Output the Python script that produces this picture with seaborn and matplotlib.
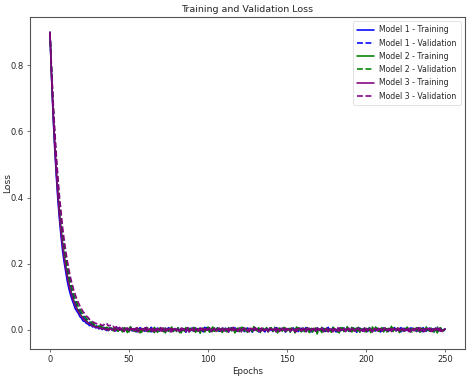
import numpy as np
import matplotlib
matplotlib.use("Agg")
import matplotlib.pyplot as plt
import seaborn as sns

# loss values per epoch (epoch 0..250)
m1_train = [
    .900, .762, .645, .548, .466, .393, .334, .283, .238, .204,
    .174, .146, .124, .106, .091, .078, .064, .057, .049, .040,
    .035, .027, .026, .020, .018, .013, .015, .009, .011, .006,
    .008, .003, .006, .001, .004, .007, -.002, .003, .005, .000,
    .004, -.003, .002, .006, -.001, .003, -.004, .001, .005, -.002,
    .002, .007, -.003, .000, .004, -.006, .002, .005, -.001, .003,
    -.004, .006, .001, -.002, .008, .000, -.005, .003, .002, -.001,
    .005, -.003, .004, -.006, .001, .007, -.002, .003, -.004, .002,
    .000, .006, -.005, .002, .004, -.001, -.007, .003, .005, -.002,
    .001, -.004, .006, .002, -.003, .004, .000, -.006, .003, .007,
    -.001, .002, -.005, .004, .001, -.002, .006, -.004, .000, .003,
    .005, -.003, .002, -.006, .004, .001, -.001, .007, -.004, .002,
    -.002, .005, .000, -.005, .003, .006, -.003, .001, -.007, .004,
    .002, -.001, .005, -.004, .000, .003, -.006, .006, .001, -.002,
    .004, -.005, .002, .007, -.003, .000, .005, -.002, .003, -.006,
    .001, .004, -.004, .002, .006, -.001, .003, -.005, .000, .005,
    -.003, .002, .007, -.002, .004, -.006, .001, .003, -.004, .006,
    .000, -.002, .005, .002, -.005, .003, .008, -.003, .001, -.001,
    .004, -.006, .002, .005, -.002, .000, .006, -.004, .003, .001,
    -.003, .005, -.001, .004, -.007, .002, .006, .000, -.004, .003,
    .002, -.005, .007, .001, -.002, .004, -.003, .005, .000, -.006,
    .003, .006, -.002, .001, -.005, .004, .002, -.001, .007, -.003,
    .000, .004, -.006, .003, .005, -.002, .001, -.004, .006, .002,
    -.001, .003, -.005, .005, .000, -.003, .007, .002, -.004, .001,
    .005, -.002, .003, -.006, .004, .001, -.003, .006, .000, -.002,
    .003,
]
m1_val = [
    .900, .780, .672, .582, .500, .432, .372, .322, .276, .240,
    .206, .180, .152, .133, .114, .098, .086, .072, .064, .054,
    .047, .041, .034, .031, .025, .023, .019, .017, .013, .014,
    .010, .008, .011, .006, .008, .004, .007, .002, .006, .003,
    .001, .005, -.002, .004, .006, .000, -.003, .005, .002, -.004,
    .003, .006, -.001, .002, -.005, .004, .000, .007, -.002, .001,
    .005, -.003, .003, .000, -.006, .004, .002, -.001, .006, -.004,
    .002, .001, -.003, .005, .003, -.005, .000, .004, -.002, .007,
    -.001, .003, .005, -.004, .001, .002, -.006, .004, .000, .003,
    .006, -.002, -.004, .003, .001, .005, -.003, .000, .008, -.001,
    .002, -.005, .004, .003, -.002, .000, .006, -.004, .002, .001,
    -.003, .005, .000, -.006, .004, .007, -.001, .002, -.004, .003,
    .001, -.002, .006, .000, -.005, .003, .002, .005, -.003, -.001,
    .004, .001, -.006, .003, .006, -.002, .000, .004, -.004, .002,
    .005, -.003, .001, .007, -.005, .002, .003, -.001, .004, -.006,
    .000, .006, -.002, .003, .001, -.004, .005, .002, -.003, .000,
    .004, -.005, .007, .001, -.002, .003, -.006, .004, .002, -.001,
    .006, .000, -.003, .005, .002, -.004, .001, .003, -.002, .008,
    -.001, .004, -.005, .002, .000, .006, -.003, .001, .005, -.004,
    .003, -.002, .006, .000, -.006, .004, .002, -.001, .003, .005,
    -.004, .001, .004, -.003, .007, .000, -.002, .005, .001, -.005,
    .002, .006, -.001, .003, -.004, .004, .000, -.006, .005, .002,
    -.002, .003, .007, -.003, .001, -.001, .004, -.005, .002, .006,
    .000, -.004, .003, .005, -.002, .001, -.006, .004, .003, -.001,
    .005, .002, -.003, .000, .006, -.004, .002, .004, -.002, .001,
    -.001,
]
m2_train = [
    .900, .770, .660, .566, .486, .414, .356, .306, .262, .226,
    .194, .165, .140, .121, .103, .090, .076, .066, .058, .048,
    .042, .036, .030, .028, .021, .019, .016, .012, .014, .009,
    .010, .006, .008, .003, .007, .001, .005, -.002, .004, .006,
    -.003, .002, .008, -.004, .003, .000, -.006, .005, .002, -.008,
    .004, .010, -.002, .001, -.005, .006, .003, -.009, .002, .004,
    -.001, .007, -.006, .003, .000, -.004, .008, .001, -.007, .005,
    .002, -.003, .006, -.009, .004, .001, -.002, .009, -.005, .003,
    .000, .006, -.008, .002, .005, -.004, .001, .007, -.006, .003,
    -.002, .008, .000, -.005, .004, -.010, .003, .006, -.003, .001,
    .005, -.007, .002, .009, -.004, .000, .006, -.002, .003, -.008,
    .004, .001, -.006, .007, .002, -.003, .005, -.009, .001, .006,
    -.004, .003, .008, -.002, .000, -.007, .004, .002, -.005, .010,
    .001, -.003, .006, -.008, .003, .005, -.001, .002, -.006, .004,
    .007, -.004, .000, .003, -.009, .005, .002, -.002, .008, -.005,
    .001, .004, -.007, .006, .000, -.003, .009, -.001, .002, -.006,
    .005, -.004, .003, .007, -.008, .001, .004, -.002, .006, -.012,
    .003, .000, .008, -.005, .002, .005, -.003, .001, -.007, .006,
    .004, -.001, .002, -.009, .007, .000, .003, -.004, .010, -.002,
    .001, -.006, .005, .003, -.003, .008, -.007, .002, .000, .006,
    -.005, .004, .001, -.008, .009, -.002, .003, .005, -.004, .001,
    .007, -.006, .002, .004, -.003, .000, .011, -.005, .003, -.002,
    .006, -.008, .001, .005, -.004, .002, .008, -.001, -.006, .004,
    .003, -.003, .007, .000, -.007, .005, .002, -.004, .009, .001,
    -.002, .006, -.005, .003, .004, -.009, .002, .007, -.003, .001,
    .002,
]
m2_val = [
    .900, .786, .680, .592, .514, .446, .386, .336, .292, .254,
    .220, .190, .166, .143, .124, .108, .094, .082, .070, .062,
    .054, .046, .041, .035, .031, .026, .024, .020, .017, .016,
    .013, .011, .012, .008, .010, .006, .008, .004, .007, .002,
    .005, .001, .006, -.003, .004, .002, -.005, .007, .000, .003,
    -.006, .005, .002, -.002, .008, -.004, .001, .006, -.007, .003,
    .004, -.001, .009, -.005, .002, .000, -.008, .005, .003, -.003,
    .007, .001, -.006, .004, .002, -.004, .010, -.002, .003, .000,
    -.005, .006, .002, -.009, .004, .001, .007, -.003, .000, .005,
    -.002, .003, -.007, .008, .001, -.004, .005, .002, -.006, .003,
    .009, -.001, .000, -.005, .006, .002, -.003, .004, -.008, .005,
    .001, .007, -.004, .002, -.002, .006, .000, -.007, .004, .003,
    -.005, .008, .001, -.003, .005, -.006, .002, .004, -.001, .009,
    -.004, .000, .006, -.008, .003, .001, -.002, .007, -.005, .002,
    .004, -.003, .008, .000, -.006, .005, .002, -.004, .003, .006,
    -.007, .001, .005, -.002, .004, -.009, .003, .007, -.001, .000,
    .006, -.005, .002, .004, -.003, .008, -.006, .001, .003, -.002,
    .007, .000, -.008, .005, .002, -.004, .006, .001, -.003, .010,
    -.002, .004, -.006, .003, .000, .007, -.005, .002, .005, -.004,
    .001, .008, -.003, .000, .006, -.007, .004, .002, -.001, .005,
    -.006, .003, .007, -.002, .001, -.005, .009, .000, -.004, .004,
    .002, -.003, .006, -.008, .005, .001, -.002, .007, -.005, .003,
    .000, .006, -.004, .002, -.007, .004, .008, -.001, .003, -.006,
    .005, .001, -.003, .007, .000, -.005, .004, .002, -.002, .006,
    -.004, .003, .005, -.006, .002, .009, -.001, .000, .004, -.003,
    .004,
]
m3_train = [
    .900, .768, .654, .560, .478, .408, .348, .298, .254, .218,
    .186, .160, .136, .118, .100, .086, .074, .063, .055, .046,
    .040, .034, .029, .025, .022, .018, .016, .012, .011, .008,
    .009, .005, .007, .002, .006, .000, .004, -.002, .005, .001,
    .003, -.004, .002, .005, -.001, .004, .000, -.005, .003, .006,
    -.002, .001, .004, -.003, .005, .000, -.006, .003, .002, -.001,
    .006, -.004, .001, .003, -.002, .005, .000, -.005, .004, .002,
    -.003, .006, .001, -.004, .003, .000, .005, -.006, .002, .004,
    -.001, .003, -.005, .006, .000, .002, -.003, .004, -.006, .001,
    .005, -.002, .003, .000, -.004, .006, .002, -.003, .004, -.001,
    .001, .005, -.005, .002, .003, -.002, .000, .006, -.004, .003,
    -.001, .004, .002, -.006, .005, .000, -.002, .003, .001, -.005,
    .006, -.003, .002, .004, -.001, .000, -.006, .005, .003, -.002,
    .001, .004, -.004, .002, .006, -.003, .000, .003, -.005, .004,
    .002, -.001, .005, -.006, .003, .001, -.002, .006, .000, -.004,
    .004, .002, -.003, .005, -.001, .001, -.005, .003, .006, -.002,
    .000, .004, -.006, .002, .005, -.003, .001, .003, -.004, .006,
    -.001, .002, .004, -.005, .000, .005, -.002, .003, .001, -.006,
    .004, .000, -.003, .006, .002, -.001, .003, -.005, .004, .001,
    -.002, .005, .000, -.004, .003, .006, -.003, .001, .002, -.005,
    .005, -.001, .003, .000, -.006, .004, .002, -.002, .005, .001,
    -.004, .003, .006, -.002, .000, .004, -.005, .002, .003, -.001,
    .006, -.003, .001, .004, -.004, .002, .000, .005, -.006, .003,
    .001, -.002, .004, .006, -.003, .000, .003, -.005, .002, .005,
    -.001, .004, -.004, .002, .000, .006, -.002, .003, -.005, .001,
    .002,
]
m3_val = [
    .900, .792, .692, .606, .530, .464, .404, .356, .310, .272,
    .238, .208, .182, .158, .140, .121, .107, .093, .082, .072,
    .063, .055, .049, .042, .038, .032, .030, .025, .022, .020,
    .018, .016, .017, .013, .015, .021, .019, .012, .014, .009,
    .011, .006, .010, .004, .008, .002, .007, .000, .005, .003,
    -.002, .006, .001, .004, -.004, .007, .002, -.001, .005, -.003,
    .003, .008, -.002, .001, .004, -.005, .006, .000, .003, -.002,
    .007, -.004, .002, .005, -.001, .003, -.006, .004, .001, .006,
    -.003, .000, .005, -.002, .004, .002, -.005, .007, .001, -.001,
    .003, -.004, .006, .000, .002, -.006, .005, .003, -.002, .004,
    .001, .007, -.003, .000, .005, -.005, .002, .004, -.001, .006,
    -.004, .003, .000, .005, -.002, .001, .008, -.004, .002, -.001,
    .004, -.006, .003, .006, .000, -.003, .005, .001, -.002, .004,
    .007, -.002, .000, -.005, .003, .005, -.001, .002, -.004, .006,
    .001, -.003, .004, .000, .006, -.005, .002, .003, -.002, .005,
    -.001, .007, -.004, .001, .003, -.006, .004, .002, .000, -.003,
    .005, .002, -.002, .006, -.004, .000, .003, .005, -.005, .002,
    .004, -.001, .006, -.003, .001, .002, -.006, .005, .000, .003,
    -.002, .004, .007, -.004, .002, .000, .005, -.003, .001, .006,
    -.005, .003, .001, -.002, .004, .006, -.001, .000, -.004, .005,
    .002, -.003, .006, .001, -.005, .003, .004, -.002, .000, .007,
    -.003, .002, .005, -.001, .003, -.006, .004, .001, .006, -.002,
    .000, .004, -.004, .003, .002, -.001, .006, -.005, .002, .004,
    -.002, .005, .000, -.003, .007, .001, -.004, .003, .002, -.001,
    .004, -.005, .006, .000, .003, -.002, .005, -.004, .001, .003,
    .001,
]

series = [
    ("Model 1 - Training", m1_train, "blue", "-"),
    ("Model 1 - Validation", m1_val, "blue", "--"),
    ("Model 2 - Training", m2_train, "green", "-"),
    ("Model 2 - Validation", m2_val, "green", "--"),
    ("Model 3 - Training", m3_train, "purple", "-"),
    ("Model 3 - Validation", m3_val, "purple", "--"),
]

sns.set_style("ticks")
plt.rcParams["font.family"] = ["DejaVu Sans"]

fig, ax = plt.subplots(figsize=(4.72, 3.81), dpi=100)
fig.subplots_adjust(left=0.064, right=0.985, top=0.955, bottom=0.084)

for name, values, color, ls in series:
    epochs = np.arange(len(values))
    sns.lineplot(x=epochs, y=values, ax=ax, color=color, linestyle=ls,
                 linewidth=1.15, label=name)

ax.set_title("Training and Validation Loss", fontsize=6.8, pad=4)
ax.set_xlabel("Epochs", fontsize=6.2, labelpad=2)
ax.set_ylabel("Loss", fontsize=6.6)
ax.yaxis.set_label_coords(-0.042, 0.5)
ax.set_xticks([0, 50, 100, 150, 200, 250])
ax.set_yticks([0.0, 0.2, 0.4, 0.6, 0.8])
ax.tick_params(labelsize=6.0, length=2.5, width=0.6, pad=2, color="#555555")
for sp in ax.spines.values():
    sp.set_linewidth(0.8)
    sp.set_color("#555555")

leg = ax.legend(loc="upper right", fontsize=5.6, frameon=True, handlelength=2.2,
                borderpad=0.55, labelspacing=0.55, handletextpad=0.7)
leg.get_frame().set_linewidth(0.5)

fig.savefig("out.png", dpi=100)
